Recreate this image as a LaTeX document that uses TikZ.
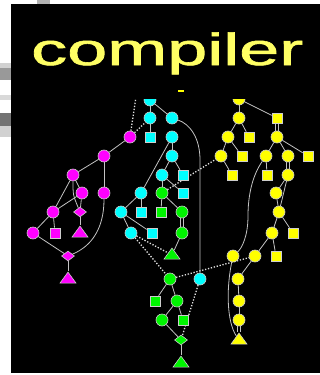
\documentclass[tikz,border=0pt]{standalone}
\usepackage{fontspec}
\setmainfont{Liberation Sans}
\newfontfamily\titlefont[FakeBold=1.2]{Liberation Sans}
\usepackage{graphicx}
\usetikzlibrary{shapes.geometric}

\definecolor{edgegray}{RGB}{195,195,195}
\definecolor{rimgray}{RGB}{205,205,205}
\definecolor{dotwhite}{RGB}{225,225,225}
\definecolor{nmag}{RGB}{255,0,255}
\definecolor{ncyan}{RGB}{0,255,255}
\definecolor{ngreen}{RGB}{0,245,0}
\definecolor{nyellow}{RGB}{255,255,0}
\definecolor{titleyellow}{RGB}{255,255,100}

\pgfdeclarelayer{back}
\pgfdeclarelayer{wires}
\pgfsetlayers{back,wires,main}

\begin{document}
\begin{tikzpicture}[x=1pt,y=-1pt,
  nd/.style={draw=rimgray, line width=0.6pt, inner sep=0pt},
  cir/.style={nd, circle, minimum size=12pt},
  sq/.style={nd, rectangle, minimum size=10pt},
  tri/.style={nd, isosceles triangle, shape border rotate=90,
    isosceles triangle stretches, minimum width=16pt, minimum height=11pt},
  dia/.style={nd, diamond, minimum width=13pt, minimum height=10pt},
  wire/.style={draw=edgegray, line width=0.8pt},
  dotwire/.style={draw=dotwhite, line width=1.3pt, dash pattern=on 1.3pt off 1.7pt},
  M/.style={fill=nmag}, C/.style={fill=ncyan}, G/.style={fill=ngreen}, Y/.style={fill=nyellow}
]
\useasboundingbox (0,0) rectangle (320,375);

% page backdrop and the dark panel
\begin{pgfonlayer}{back}
  \fill[white] (0,0) rectangle (320,375);
  \fill[black!30] (37,0) rectangle (50,4);
  \fill[black!18] (0,63) rectangle (11,68);
  \fill[black!40] (0,68) rectangle (11,80);
  \fill[black!15] (0,95) rectangle (11,100);
  \fill[black!55] (0,113) rectangle (11,126);
  \fill[black!18] (0,126) rectangle (11,137);
  \fill[black] (11,4) rectangle (320,373);
\end{pgfonlayer}

% magenta cluster
\node[cir,M] (m1) at (130,137) {};
\node[cir,M] (m2) at (104,156) {};
\node[cir,M] (m3) at (73,175) {};
\node[cir,M] (m4) at (82,193) {};
\node[cir,M] (m5) at (104,193) {};
\node[cir,M] (m6) at (53,212) {};
\node[dia,M] (m7) at (80,212) {};
\node[cir,M] (m8) at (33,233) {};
\node[sq,M]  (m9) at (55,233) {};
\node[tri,M] (m10) at (80,233) {};
\node[dia,M] (m11) at (68,256) {};
\node[tri,M] (m12) at (68,279) {};

% cyan cluster
\node[cir,C] (c1) at (150,100) {};
\node[cir,C] (c2) at (150,118) {};
\node[cir,C] (c3) at (172,118) {};
\node[sq,C]  (c4) at (150,137) {};
\node[cir,C] (c5) at (172,137) {};
\node[cir,C] (c6) at (172,156) {};
\node[cir,C] (c7) at (162,175) {};
\node[sq,C]  (c8) at (183,175) {};
\node[cir,C] (c9) at (141,193) {};
\node[sq,C]  (c10) at (183,193) {};
\node[cir,C] (c11) at (121,212) {};
\node[sq,C]  (c12) at (141,212) {};
\node[cir,C] (c13) at (131,233) {};
\node[sq,C]  (c14) at (152,233) {};
\node[cir,C] (c15) at (200,279) {};

% green cluster
\node[cir,G] (g1) at (162,193) {};
\node[sq,G]  (g2) at (161,212) {};
\node[cir,G] (g3) at (182,212) {};
\node[cir,G] (g4) at (182,233) {};
\node[tri,G] (g5) at (172,255) {};
\node[cir,G] (g6) at (170,279) {};
\node[sq,G]  (g7) at (155,301) {};
\node[cir,G] (g8) at (177,301) {};
\node[cir,G] (g9) at (162,320) {};
\node[sq,G]  (g10) at (183,320) {};
\node[dia,G] (g11) at (181,340) {};
\node[tri,G] (g12) at (181,363) {};

% yellow cluster
\node[cir,Y] (y1) at (239,99) {};
\node[cir,Y] (y2) at (239,118) {};
\node[sq,Y]  (y3) at (277,118) {};
\node[cir,Y] (y4) at (228,137) {};
\node[sq,Y]  (y5) at (249,137) {};
\node[cir,Y] (y6) at (277,137) {};
\node[cir,Y] (y7) at (221,156) {};
\node[sq,Y]  (y8) at (242,156) {};
\node[cir,Y] (y9) at (266,156) {};
\node[cir,Y] (y10) at (288,156) {};
\node[sq,Y]  (y11) at (308,156) {};
\node[sq,Y]  (y12) at (232,175) {};
\node[sq,Y]  (y13) at (267,175) {};
\node[cir,Y] (y14) at (288,175) {};
\node[cir,Y] (y15) at (276,193) {};
\node[cir,Y] (y16) at (279,212) {};
\node[cir,Y] (y17) at (272,233) {};
\node[sq,Y]  (y18) at (293,233) {};
\node[cir,Y] (y19) at (233,256) {};
\node[cir,Y] (y20) at (255,256) {};
\node[sq,Y]  (y21) at (276,256) {};
\node[cir,Y] (y22) at (238,279) {};
\node[cir,Y] (y23) at (239,301) {};
\node[cir,Y] (y24) at (239,320) {};
\node[tri,Y] (y25) at (239,340) {};

\coordinate (above) at (136,97);

\begin{pgfonlayer}{wires}
  % magenta edges
  \draw[dotwire] (m1) -- (above);
  \draw[dotwire] (m1) -- (c2);
  \draw[wire] (m1) -- (m2);
  \draw[wire] (m2) -- (m3);
  \draw[wire] (m2) -- (m5);
  \draw[wire] (m3) -- (m4);
  \draw[wire] (m3) -- (m6);
  \draw[wire] (m3) .. controls (73,195) .. (m7);
  \draw[wire] (m4) -- (m7);
  \draw[wire] (m4) -- (m6);
  \draw[wire] (m6) -- (m8);
  \draw[wire] (m6) -- (m9);
  \draw[wire] (m7) -- (m10);
  \draw[wire] (m8) -- (m11);
  \draw[wire] (m5) .. controls (104,228) and (92,246) .. (m11);
  \draw[wire] (m11) -- (m12);

  % cyan edges
  \draw[wire] (c1) -- (c2);
  \draw[wire] (c1) -- (c3);
  \draw[wire] (c2) -- (c4);
  \draw[wire] (c3) .. controls (190,124) and (200,138) .. (200,160) -- (c15);
  \draw[wire] (c5) -- (c6);
  \draw[wire] (c5) -- (c9);
  \draw[wire] (c6) -- (c7);
  \draw[wire] (c6) -- (c8);
  \draw[wire] (c7) -- (g1);
  \draw[wire] (c7) -- (c10);
  \draw[wire] (c9) -- (c11);
  \draw[wire] (c9) -- (c12);
  \draw[wire] (c11) -- (c13);
  \draw[wire] (c11) -- (c14);
  \draw[dotwire] (c13) -- (g5);
  \draw[dotwire] (c13) -- (g6);
  \draw[dotwire] (c15) -- (g11);

  % green edges
  \draw[dotwire] (g1) -- (y7);
  \draw[wire] (g1) -- (g2);
  \draw[wire] (g1) -- (g3);
  \draw[wire] ([xshift=-1.6pt]g3.south) -- ([xshift=-1.6pt]g4.north);
  \draw[wire] ([xshift=1.6pt]g3.south) -- ([xshift=1.6pt]g4.north);
  \draw[wire] (g4) -- (g5);
  \draw[dotwire] (g6) -- (y20);
  \draw[wire] (g6) -- (g7);
  \draw[wire] (g6) -- (g8);
  \draw[wire] (g8) -- (g9);
  \draw[wire] (g8) -- (g10);
  \draw[wire] (g9) -- (g11);
  \draw[wire] (g11) -- (g12);

  % yellow edges
  \draw[wire] (y1) -- (y2);
  \draw[wire] (y1) -- (y3);
  \draw[wire] ([xshift=-1.6pt]y3.south) -- ([xshift=-1.6pt]y6.north);
  \draw[wire] ([xshift=1.6pt]y3.south) -- ([xshift=1.6pt]y6.north);
  \draw[wire] (y2) -- (y4);
  \draw[wire] (y2) -- (y5);
  \draw[wire] (y4) -- (y7);
  \draw[wire] (y4) -- (y8);
  \draw[wire] (y7) -- (y12);
  \draw[wire] (y6) -- (y9);
  \draw[wire] (y6) -- (y10);
  \draw[wire] (y6) -- (y11);
  \draw[wire] (y9) -- (y13);
  \draw[wire] ([xshift=-1.6pt]y10.south) -- ([xshift=-1.6pt]y14.north);
  \draw[wire] ([xshift=1.6pt]y10.south) -- ([xshift=1.6pt]y14.north);
  \draw[wire] (y9) .. controls (252,176) and (248,196) .. (248,216)
                   .. controls (248,236) and (242,248) .. (y19);
  \draw[wire] (y14) -- (y15);
  \draw[wire] (y14) -- (y16);
  \draw[wire] (y15) -- (y16);
  \draw[wire] (y16) -- (y17);
  \draw[wire] (y16) -- (y18);
  \draw[wire] (y17) -- (y20);
  \draw[wire] (y17) -- (y21);
  \draw[wire] (y20) -- (y22);
  \draw[wire] (y22) -- (y23);
  \draw[wire] (y23) -- (y24);
  \draw[wire] ([xshift=-1.6pt]y24.south) -- ([xshift=-1.6pt]y25.north);
  \draw[wire] ([xshift=1.6pt]y24.south) -- ([xshift=1.6pt]y25.north);
  \draw[wire] (y19) .. controls (226,290) and (227,322) .. (y25);
\end{pgfonlayer}

% the top rows run under the dark title band
\fill[black] (11,80) rectangle (320,98.5);
\fill[nyellow] (178,89.5) rectangle (184,92);

% title
\node[anchor=base west, inner sep=0pt, text=titleyellow] (title) at (31,65)
  {\scalebox{1.6}[1]{\titlefont\fontsize{45}{45}\selectfont compiler}};
\end{tikzpicture}
\end{document}
